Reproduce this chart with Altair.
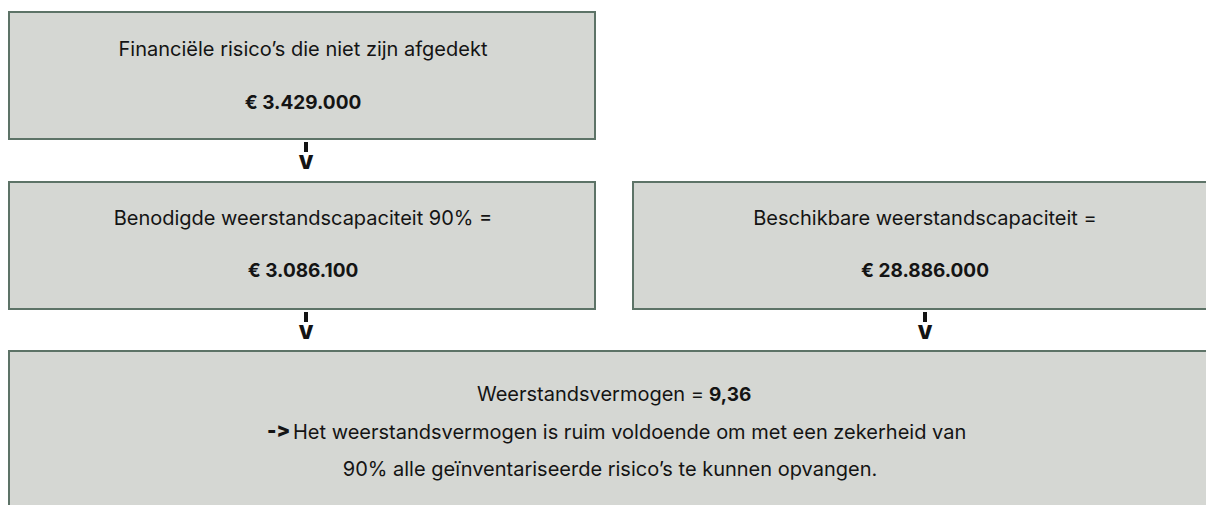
import altair as alt
import pandas as pd

# ---- content ----
box_ids = ["risico", "benodigd", "beschikbaar", "vermogen"]
labels = [
    "Financiële risico’s die niet zijn afgedekt",
    "Benodigde weerstandscapaciteit 90% =",
    "Beschikbare weerstandscapaciteit =",
]
amounts = ["€ 3.429.000", "€ 3.086.100", "€ 28.886.000"]
result_label = "Weerstandsvermogen ="
result_value = "9,36"
conclusion_arrow = "-\u200c>"
conclusion_lines = [
    "Het weerstandsvermogen is ruim voldoende om met een zekerheid van",
    "90% alle geïnventariseerde risico’s te kunnen opvangen.",
]

# ---- layout (page pixels) ----
box_x1 = [9, 9, 633, 9]
box_x2 = [595, 595, 1222, 1222]
box_y1 = [12, 182, 182, 351]
box_y2 = [139, 309, 309, 522]
label_x = [303, 303, 925]
label_y = [50, 219, 219]
amount_y = [103, 271, 271]
arrow_x = [306, 306, 925]
arrow_top = [142, 312, 312]

FONT = "Inter"
FS = 20
FSB = 19
FILL = "#d5d7d3"
STROKE = "#5d7367"
INK = "#141414"

W, H = 1198, 497
xs = alt.Scale(domain=[8, 8 + W], range=[0, W])
ys = alt.Scale(domain=[8, 8 + H], range=[0, H])


def X():
    return alt.X("x:Q", scale=xs, axis=None)


def Y():
    return alt.Y("y:Q", scale=ys, axis=None)


boxes = pd.DataFrame({"id": box_ids, "x": box_x1, "x2": box_x2, "y": box_y1, "y2": box_y2})
rects = alt.Chart(boxes).mark_rect(fill=FILL, stroke=STROKE, strokeWidth=2, clip=True).encode(
    x=X(), x2="x2:Q", y=Y(), y2="y2:Q"
)

lab_df = pd.DataFrame({"t": labels, "x": label_x, "y": label_y})
lab = alt.Chart(lab_df).mark_text(font=FONT, fontSize=FS, color=INK, align="center", baseline="middle").encode(
    x=X(), y=Y(), text="t:N"
)

amt_df = pd.DataFrame({"t": amounts, "x": label_x, "y": amount_y})
amt = alt.Chart(amt_df).mark_text(font=FONT, fontSize=FSB, fontWeight="bold", color=INK, align="center", baseline="middle").encode(
    x=X(), y=Y(), text="t:N"
)

# arrows: short bar + bold V
dash_df = pd.DataFrame({"x": arrow_x, "y": arrow_top, "y2": [v + 10 for v in arrow_top]})
dash = alt.Chart(dash_df).mark_rule(color=INK, strokeWidth=4).encode(x=X(), y=Y(), y2="y2:Q")
v_df = pd.DataFrame({"x": arrow_x, "y": [v + 21 for v in arrow_top], "t": ["V"] * 3})
vmark = alt.Chart(v_df).mark_text(font=FONT, fontSize=19, fontWeight=900, color=INK, align="center", baseline="middle").encode(
    x=X(), y=Y(), text="t:N"
)

# bottom box text
r1 = pd.DataFrame({"t": [result_label], "x": [704], "y": [395]})
res_lab = alt.Chart(r1).mark_text(font=FONT, fontSize=FS, color=INK, align="right", baseline="middle").encode(
    x=X(), y=Y(), text="t:N"
)
r2 = pd.DataFrame({"t": [result_value], "x": [709], "y": [395]})
res_val = alt.Chart(r2).mark_text(font=FONT, fontSize=FSB, fontWeight="bold", color=INK, align="left", baseline="middle").encode(
    x=X(), y=Y(), text="t:N"
)
a_df = pd.DataFrame({"t": [conclusion_arrow], "x": [267], "y": [431]})
arr = alt.Chart(a_df).mark_text(font=FONT, fontSize=20, fontWeight=900, color=INK, align="left", baseline="middle").encode(
    x=X(), y=Y(), text="t:N"
)
c1 = pd.DataFrame({"t": [conclusion_lines[0]], "x": [293], "y": [433]})
con1 = alt.Chart(c1).mark_text(font=FONT, fontSize=FS, color=INK, align="left", baseline="middle").encode(
    x=X(), y=Y(), text="t:N"
)
c2 = pd.DataFrame({"t": [conclusion_lines[1]], "x": [610], "y": [470]})
con2 = alt.Chart(c2).mark_text(font=FONT, fontSize=FS, color=INK, align="center", baseline="middle").encode(
    x=X(), y=Y(), text="t:N"
)

chart = alt.layer(rects, lab, amt, dash, vmark, res_lab, res_val, arr, con1, con2).properties(
    width=W, height=H, autosize=alt.AutoSizeParams(type="none"), padding=0, background="white"
).configure_view(stroke=None)

chart.save("out.html", embed_options={"renderer": "svg", "actions": False})
